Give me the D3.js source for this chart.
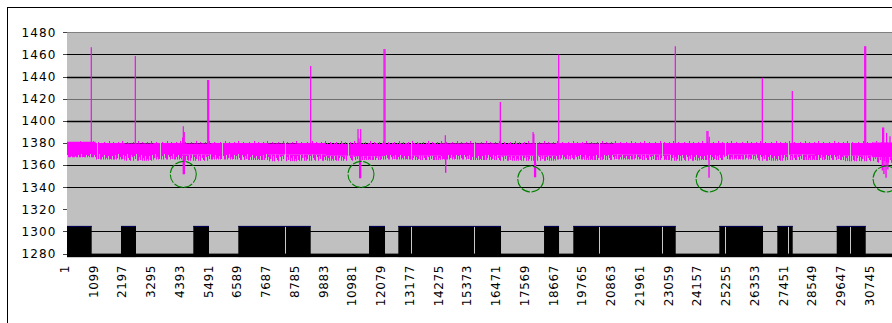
<!DOCTYPE html>
<html><head><meta charset="utf-8">
<script src="https://cdn.jsdelivr.net/npm/d3@7"></script>
<style>html,body{margin:0;padding:0;background:#fff;overflow:hidden}</style>
</head><body><svg id="c" width="892" height="323"></svg>
<script>
// ---------------- data ----------------
const yTickValues = [1280,1300,1320,1340,1360,1380,1400,1420,1440,1460,1480];
const xTickLabels = [1,1099,2197,3295,4393,5491,6589,7687,8785,9883,10981,12079,13177,14275,15373,16471,17569,18667,19765,20863,21961,23059,24157,25255,26353,27451,28549,29647,30745];
const lastIndex = 31508;

// black pulse series (1305 high / 1280 low)
const pulseStart = [1,2063,4825,6543,11535,12654,18219,19337,24913,27128,29397];
const pulseEnd   = [944,2636,5424,9308,12146,16576,18792,23248,26582,27716,30504];
const pulseHigh = 1305, pulseLow = 1280;

// magenta series: envelope per label interval (top, dense core bottom, ragged fringe bottom)
const bandTop    = [1381,1380,1379.5,1380,1379.5,1380,1380,1379.5,1380,1379,1379,1379,1379,1379.5,1379.5,1379,1379.5,1380,1379.5,1380,1380,1380,1380,1380,1380,1380,1380,1380,1380.5];
const bandCore   = [1370,1370,1370,1370,1369.5,1370,1370,1369.5,1369.5,1368.5,1368,1369,1368.5,1369,1369,1368.5,1368.5,1369,1369,1369.5,1369.5,1369,1369,1369.5,1369,1369.5,1369,1368.5,1367];
const bandFringe = [1367,1365,1364,1365,1364,1365,1364.5,1363.5,1364,1364,1364.5,1365,1364.5,1365,1364.5,1364,1364,1365,1364.5,1365,1364.5,1364,1364.5,1365,1364,1364.5,1364.5,1363.5,1362];

// upward spikes of the magenta series [index, value]
const spikeIdx = [929,2610,4420,4443,4480,5375,5413,9308,11115,11150,11218,12108,12146,14449,16550,17800,17830,18780,23233,24440,24480,24530,26556,27701,30466,30504,31150,31190,31300,31432];
const spikeVal = [1466.5,1458.5,1385,1395,1390,1437,1437,1449.5,1392.5,1384,1392.5,1465,1465,1387,1417,1390,1388,1460,1467.5,1390.7,1390.7,1385.5,1439,1427,1467.5,1467.5,1394,1394,1389,1386];
// downward dips of the magenta series
const dipIdx = [4443,4480,11180,11215,14464,17860,17895,24520,31140,31200,31280,31350];
const dipVal = [1351.6,1351.6,1348,1348,1353,1349,1349,1348.6,1355,1352,1348.6,1356];

// missing-value rows (breaks in both series)
const gapIdx = [1135,3534,5932,8331,10729,13127,15526,17924,20323,22721,25120,27518,29916];

// green circle annotations
const circleIdx = [4443,11229,17710,24520,31280];
const circleVal = [1351.6,1351.6,1347.4,1347.4,1347.4];

// ---------------- chart ----------------
const svg = d3.select('#c');
const plotLeft = 67, plotRight = 892, plotTop = 32.3, plotBottom = 257.3;
const x = d3.scaleLinear().domain([1, lastIndex]).range([plotLeft, plotRight]);
const y = d3.scaleLinear().domain([1280, 1480]).range([253.6, 32.3]);
const MAG = '#ff00ff';

// chart-area frame
svg.append('rect').attr('x',7.5).attr('y',7.5).attr('width',1000).attr('height',1000)
  .attr('fill','#fff').attr('stroke','#000').attr('stroke-width',1);

const defs = svg.append('defs');
const fr = defs.append('pattern').attr('id','fringe').attr('patternUnits','userSpaceOnUse')
  .attr('x',0).attr('y',153).attr('width',37).attr('height',40);
[10,3,7,12,2,12,5,1,8,4,9,6,2,9,3,11,1,5,7,10,2,4,8,3,6,1,9,12,4,7,2,10,5,8,3,11,6].forEach((h,k)=>{
  fr.append('rect').attr('x',k).attr('y',0).attr('width',1).attr('height',h).attr('fill',MAG);
});
const tu = defs.append('pattern').attr('id','tuft').attr('patternUnits','userSpaceOnUse')
  .attr('x',0).attr('y',104).attr('width',29).attr('height',40);
[1,0,2,0,0,1,3,0,1,0,0,2,1,0,0,1,0,2,0,0,1,0,3,1,0,0,2,0,1].forEach((h,k)=>{
  if (h>0) tu.append('rect').attr('x',k).attr('y',40-h).attr('width',1).attr('height',h).attr('fill',MAG);
});
defs.append('clipPath').attr('id','plotclip').append('rect')
  .attr('x',plotLeft).attr('y',plotTop-2).attr('width',plotRight-plotLeft+5).attr('height',plotBottom-plotTop+2);

// plot background
svg.append('rect').attr('x',plotLeft).attr('y',plotTop).attr('width',plotRight-plotLeft+5)
  .attr('height',plotBottom-plotTop).attr('fill','#c0c0c0');

// gridlines
const gridColor = v => v===1480 ? '#808080' : v===1420 ? '#6e6e6e' : v===1320 ? 'none' : '#000';
svg.append('g').selectAll('line').data(yTickValues).join('line')
  .attr('x1',plotLeft).attr('x2',plotRight+5)
  .attr('y1',d=>Math.round(y(d))+0.5).attr('y2',d=>Math.round(y(d))+0.5)
  .attr('stroke',d=>gridColor(d)).attr('stroke-width',d=>(d===1400||d===1440)?1.4:1);

const g = svg.append('g').attr('clip-path','url(#plotclip)');

// black pulse series
g.append('rect').attr('x',plotLeft).attr('y',y(pulseLow)).attr('width',plotRight-plotLeft+5)
  .attr('height',plotBottom-y(pulseLow)).attr('fill','#000');
const pulses = pulseStart.map((s,i)=>({s, e:pulseEnd[i]}));
g.append('g').selectAll('rect').data(pulses).join('rect')
  .attr('x',d=>x(d.s)).attr('width',d=>x(d.e)-x(d.s))
  .attr('y',y(pulseHigh)).attr('height',plotBottom-y(pulseHigh)).attr('fill','#000');
g.append('g').selectAll('line').data(pulses).join('line')
  .attr('x1',d=>x(d.s)).attr('x2',d=>x(d.e))
  .attr('y1',y(pulseHigh)+0.5).attr('y2',y(pulseHigh)+0.5)
  .attr('stroke','#000058').attr('stroke-width',1);

// magenta band
const bandData = xTickLabels.map((s,i)=>({i:s, top:bandTop[i], core:bandCore[i], fringe:bandFringe[i]}));
bandData.push(Object.assign({}, bandData[bandData.length-1], {i:lastIndex}));
g.append('path').datum(bandData).attr('fill','url(#tuft)')
  .attr('d', d3.area().curve(d3.curveStepAfter).x(d=>x(d.i)).y0(d=>y(d.top)).y1(d=>y(d.top+3))(bandData));
g.append('path').datum(bandData).attr('fill','url(#fringe)')
  .attr('d', d3.area().curve(d3.curveStepAfter).x(d=>x(d.i)).y0(d=>y(d.fringe)).y1(d=>y(d.core))(bandData));
g.append('path').datum(bandData).attr('fill',MAG)
  .attr('d', d3.area().curve(d3.curveStepAfter).x(d=>x(d.i)).y0(d=>y(d.core)).y1(d=>y(d.top))(bandData));

// spikes and dips
const spikes = spikeIdx.map((i,k)=>({i, v:spikeVal[k]}));
g.append('g').selectAll('line').data(spikes).join('line')
  .attr('x1',d=>x(d.i)).attr('x2',d=>x(d.i)).attr('y1',y(1378)).attr('y2',d=>y(d.v))
  .attr('stroke',MAG).attr('stroke-width',1.2);
const dips = dipIdx.map((i,k)=>({i, v:dipVal[k]}));
g.append('g').selectAll('line').data(dips).join('line')
  .attr('x1',d=>x(d.i)).attr('x2',d=>x(d.i)).attr('y1',y(1369)).attr('y2',d=>y(d.v))
  .attr('stroke',MAG).attr('stroke-width',1.4);

// gaps (missing rows)
g.append('g').selectAll('line').data(gapIdx).join('line')
  .attr('x1',d=>Math.round(x(d))+0.5).attr('x2',d=>Math.round(x(d))+0.5)
  .attr('y1',y(1383)).attr('y2',y(1362)).attr('stroke','#c0c0c0').attr('stroke-width',1);
const inPulse = i => pulses.some(p=>i>=p.s && i<=p.e);
g.append('g').selectAll('line').data(gapIdx.filter(inPulse)).join('line')
  .attr('x1',d=>Math.round(x(d))+0.5).attr('x2',d=>Math.round(x(d))+0.5)
  .attr('y1',y(pulseHigh)+1).attr('y2',y(pulseLow)).attr('stroke','#c8c8c8').attr('stroke-width',1);

// green circles
const circles = circleIdx.map((i,k)=>({i, v:circleVal[k]}));
svg.append('g').selectAll('circle').data(circles).join('circle')
  .attr('cx',d=>x(d.i)).attr('cy',d=>y(d.v)).attr('r',13)
  .attr('fill','none').attr('stroke','#008000').attr('stroke-width',1.1).attr('stroke-dasharray','9,1.5');

// y axis
const font = '"DejaVu Sans", Verdana, sans-serif';
const ya = svg.append('g');
ya.selectAll('line').data(yTickValues).join('line')
  .attr('x1',63).attr('x2',plotLeft).attr('y1',d=>Math.round(y(d))+0.5).attr('y2',d=>Math.round(y(d))+0.5)
  .attr('stroke','#444').attr('stroke-width',1);
ya.selectAll('text').data(yTickValues).join('text')
  .attr('x',56.5).attr('y',d=>y(d)).attr('dy','0.36em').attr('text-anchor','end')
  .style('font-family',font).style('font-size','12px').style('letter-spacing','1.1px')
  .attr('fill','#000').text(d=>d);

// x axis labels
svg.append('g').selectAll('text').data(xTickLabels).join('text')
  .attr('transform',d=>`translate(${x(d)-2.5},265) rotate(-90)`)
  .attr('text-anchor','end').attr('dy','0.36em')
  .style('font-family',font).style('font-size','12px').style('letter-spacing','0.6px')
  .attr('fill','#000').text(d=>d);
</script></body></html>
